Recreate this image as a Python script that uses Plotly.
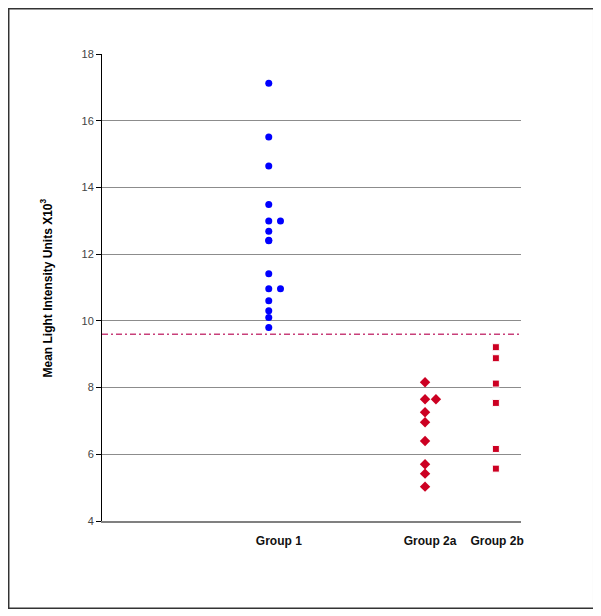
import plotly.graph_objects as go

# values (units x10^3)
group1_x = [3.98] * 11 + [4.26, 3.98, 4.26, 3.98, 3.98]
group1_y = [17.12, 15.51, 14.64, 13.49, 12.99, 12.69, 12.40, 11.41,
            10.96, 10.60, 10.30, 12.99, 10.10, 10.96, 9.80, 12.42]
group2a_x = [7.71, 7.71, 7.97, 7.71, 7.71, 7.71, 7.71, 7.71, 7.71]
group2a_y = [8.16, 7.65, 7.65, 7.26, 6.96, 6.40, 5.70, 5.42, 5.03]
group2b_x = [9.40] * 6
group2b_y = [9.21, 8.88, 8.12, 7.54, 6.16, 5.57]
cutoff = 9.6

group_labels = ["Group 1", "Group 2a", "Group 2b"]
group_label_pos = [4.22, 7.83, 9.43]
y_ticks = [4, 6, 8, 10, 12, 14, 16, 18]

fig = go.Figure()
fig.add_trace(go.Scatter(x=group1_x, y=group1_y, mode="markers", name="Group 1",
                         marker=dict(symbol="circle", size=7, color="#0000ff")))
fig.add_trace(go.Scatter(x=group2a_x, y=group2a_y, mode="markers", name="Group 2a",
                         marker=dict(symbol="diamond", size=8, color="#cc0022")))
fig.add_trace(go.Scatter(x=group2b_x, y=group2b_y, mode="markers", name="Group 2b",
                         marker=dict(symbol="square", size=7, color="#cc0022",
                                     line=dict(color="white", width=1))))

# cut-off line
fig.add_shape(type="line", xref="paper", x0=0, x1=1, y0=cutoff, y1=cutoff,
              line=dict(color="#c8407a", width=1.5, dash="6px,3px,2px,3px"))

# outer frame
fig.add_shape(type="rect", xref="paper", yref="paper",
              x0=-0.2232, x1=1.1742, y0=-0.1874, y1=1.0974,
              line=dict(color="#333333", width=2))

fig.add_annotation(text="Mean Light Intensity Units X10<sup>3</sup>",
                   xref="paper", yref="paper", x=-0.1337, y=0.5, textangle=-90,
                   showarrow=False, xanchor="center", yanchor="middle",
                   font=dict(family="Arial, Liberation Sans", size=12, color="black",
                             weight="bold"))

fig.update_layout(
    width=587, height=601,
    margin=dict(l=94, r=74, t=46, b=88),
    plot_bgcolor="white", paper_bgcolor="white",
    showlegend=False,
    font=dict(family="Arial, Liberation Sans"),
)
fig.update_xaxes(range=[0, 10], tickvals=group_label_pos, ticktext=group_labels,
                 ticks="", showgrid=False, zeroline=False,
                 showline=True, linecolor="#808080", linewidth=1.5,
                 ticklabelstandoff=8,
                 tickfont=dict(size=12, color="#111111", weight="bold"))
fig.update_yaxes(range=[4, 18], tickvals=y_ticks, ticks="outside", ticklen=5,
                 tickcolor="black", showline=True, linecolor="black", linewidth=1,
                 showgrid=True, gridcolor="#8c8c8c", gridwidth=1, zeroline=False,
                 tickfont=dict(size=11, color="#444444"))

fig.write_html("out.html")
